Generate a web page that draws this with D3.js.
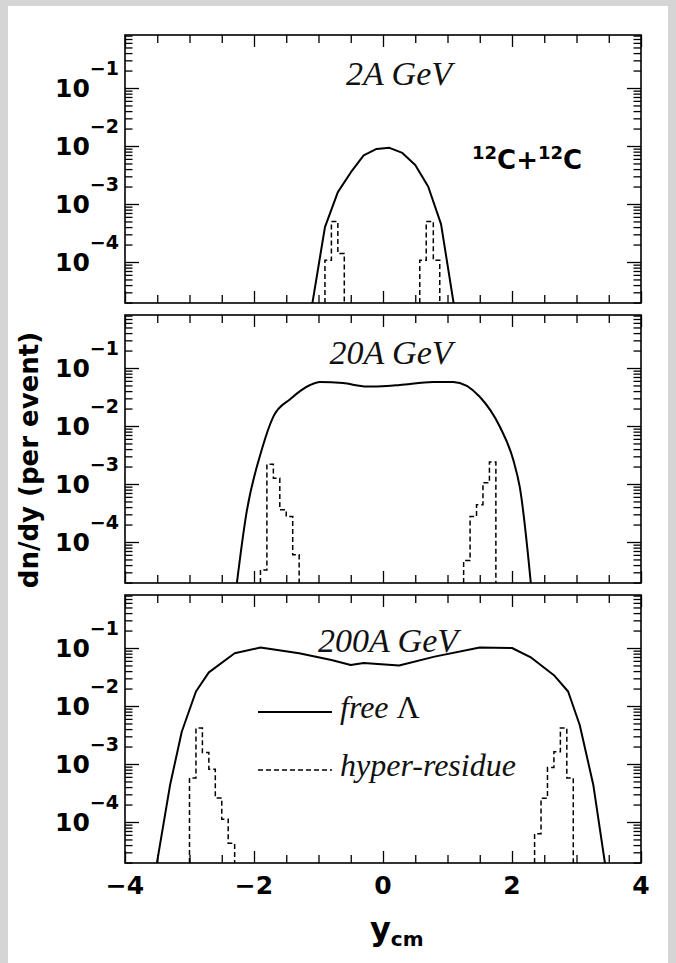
<!DOCTYPE html>
<html><head><meta charset="utf-8">
<script src="https://cdn.jsdelivr.net/npm/d3@7/dist/d3.min.js"></script>
<style>html,body{margin:0;padding:0;background:#d5d5d5;} svg{display:block;}</style>
</head><body><svg id="c" width="676" height="963"></svg>
<script>
// ---------------- data ----------------
const panelTitles = ["2A GeV", "20A GeV", "200A GeV"];
const yTickExponents = [-1, -2, -3, -4];
const xTickLabels = [-4, -2, 0, 2, 4];
const xMinorTicks = [-3.5,-3,-2.5,-1.5,-1,-0.5,0.5,1,1.5,2.5,3,3.5];
const legendLabels = [["free ", "\u039B"], ["hyper-residue", ""]];
const systemLabel = ["12", "C+", "12", "C"];

// free Lambda, 2A GeV
const free2X = [-1.1, -0.9, -0.7, -0.5, -0.3, -0.1, 0.1, 0.3, 0.5, 0.7, 0.9, 1.1];
const free2V = [1.8e-5, 4.0e-4, 1.6e-3, 3.5e-3, 6.9e-3, 8.9e-3, 9.3e-3, 7.6e-3, 4.7e-3, 2.0e-3, 4.5e-4, 1.8e-5];
// hyper-residue, 2A GeV (bin edges, contents)
const res2LeftEdges = [-0.9, -0.8, -0.7, -0.6];
const res2LeftV = [1.07e-4, 5.0e-4, 1.4e-4];
const res2RightEdges = [0.57, 0.67, 0.78, 0.88];
const res2RightV = [1.07e-4, 5.0e-4, 1.07e-4];

// free Lambda, 20A GeV
const free20X = [-2.35, -2.11, -1.88, -1.70, -1.44, -1.13, -0.98, -0.62, -0.25, 0.06, 0.26, 0.78, 1.09, 1.50, 1.81, 2.02, 2.12, 2.35];
const free20V = [3.2e-6, 3.5e-4, 3.9e-3, 1.45e-2, 2.9e-2, 5.1e-2, 5.75e-2, 5.5e-2, 4.8e-2, 4.9e-2, 5.1e-2, 5.75e-2, 5.75e-2, 3.2e-2, 9.8e-3, 2.6e-3, 8.9e-4, 4.0e-6];
const res20LeftEdges = [-1.9, -1.8, -1.7, -1.6, -1.5, -1.4, -1.3];
const res20LeftV = [3.3e-5, 2.2e-3, 1.26e-3, 3.6e-4, 2.75e-4, 6.0e-5];
const res20RightEdges = [1.25, 1.35, 1.45, 1.55, 1.65, 1.75];
const res20RightV = [4.8e-5, 2.75e-4, 4.4e-4, 1.05e-3, 2.4e-3];

// free Lambda, 200A GeV
const free200X = [-3.55, -3.30, -3.12, -2.9, -2.7, -2.3, -1.9, -1.3, -0.8, -0.5, -0.3, 0.25, 0.8, 1.5, 2.0, 2.3, 2.65, 2.87, 3.05, 3.26, 3.48];
const free200V = [1.0e-5, 4.4e-4, 3.6e-3, 1.78e-2, 3.8e-2, 8.1e-2, 1.02e-1, 8.1e-2, 6.2e-2, 5.1e-2, 5.5e-2, 5.0e-2, 7.1e-2, 1.02e-1, 1.0e-1, 6.8e-2, 3.4e-2, 1.78e-2, 4.7e-3, 4.4e-4, 1.0e-5];
const res200LeftEdges = [-3.0, -2.9, -2.8, -2.7, -2.6, -2.5, -2.4, -2.3];
const res200LeftV = [5.75e-4, 4.17e-3, 1.58e-3, 8.1e-4, 2.6e-4, 1.12e-4, 4.3e-5];
const res200RightEdges = [2.35, 2.45, 2.55, 2.65, 2.75, 2.85, 2.95];
const res200RightV = [6.3e-5, 2.57e-4, 8.7e-4, 1.62e-3, 4.17e-3, 5.75e-4];

// ---------------- layout ----------------
const W = 676, H = 963;
const plotLeft = 125, plotRight = 641;
const panelTop0 = 35, panelH = 268, panelStep = 280;
const yMin = Math.pow(10, -4.707), yMax = Math.pow(10, -0.086);
const titleX = [399, 391, 388], titleBase = [50, 49, 57];
const SANS = "'DejaVu Sans', sans-serif";
const SERIF = "'Liberation Serif', 'Times New Roman', serif";

const panels = [
  {title: panelTitles[0], fx: free2X, fv: free2V, curve: d3.curveLinear,
   hist: [[res2LeftEdges, res2LeftV], [res2RightEdges, res2RightV]]},
  {title: panelTitles[1], fx: free20X, fv: free20V, curve: d3.curveMonotoneX,
   hist: [[res20LeftEdges, res20LeftV], [res20RightEdges, res20RightV]]},
  {title: panelTitles[2], fx: free200X, fv: free200V, curve: d3.curveLinear,
   hist: [[res200LeftEdges, res200LeftV], [res200RightEdges, res200RightV]]}
];

const svg = d3.select("#c");
svg.append("rect").attr("width", W).attr("height", H).attr("fill", "#d5d5d5");
svg.append("rect").attr("x", 8).attr("y", 6).attr("width", 660).attr("height", H - 6).attr("fill", "#ffffff");

const x = d3.scaleLinear().domain([-4, 4]).range([plotLeft, plotRight]);
const defs = svg.append("defs");

panels.forEach((p, i) => {
  const top = panelTop0 + i * panelStep, bottom = top + panelH;
  const y = d3.scaleLog().domain([yMin, yMax]).range([bottom, top]);
  const g = svg.append("g");
  const cid = "clip" + i;
  defs.append("clipPath").attr("id", cid).append("rect")
    .attr("x", plotLeft).attr("y", top).attr("width", plotRight - plotLeft).attr("height", panelH);

  // free Lambda curve
  g.append("path").datum(d3.zip(p.fx, p.fv))
    .attr("clip-path", `url(#${cid})`)
    .attr("d", d3.line().x(d => x(d[0])).y(d => y(d[1])).curve(p.curve))
    .attr("fill", "none").attr("stroke", "#000").attr("stroke-width", 2).attr("stroke-linejoin", "round");

  // hyper-residue histograms
  p.hist.forEach(([edges, vals]) => {
    const pts = [[edges[0], yMin]];
    vals.forEach((v, k) => { pts.push([edges[k], v]); pts.push([edges[k + 1], v]); });
    pts.push([edges[edges.length - 1], yMin]);
    g.append("path").datum(pts)
      .attr("clip-path", `url(#${cid})`)
      .attr("d", d3.line().x(d => x(d[0])).y(d => y(d[1])))
      .attr("fill", "none").attr("stroke", "#000").attr("stroke-width", 1.5)
      .attr("stroke-dasharray", "5,3");
  });

  // ticks via d3 axes (inward)
  const decades = yTickExponents.map(e => Math.pow(10, e));
  const minors = [];
  for (let e = -5; e <= 0; e++) for (let k = 2; k <= 9; k++) {
    const v = k * Math.pow(10, e);
    if (v > yMin && v < yMax) minors.push(v);
  }
  const styleAxis = sel => { sel.select(".domain").remove(); sel.selectAll("line").attr("stroke", "#000").attr("stroke-width", 1.3); };
  g.append("g").attr("transform", `translate(${plotLeft},0)`).call(d3.axisLeft(y).tickValues(decades).tickSize(-14).tickFormat("")).call(styleAxis);
  g.append("g").attr("transform", `translate(${plotLeft},0)`).call(d3.axisLeft(y).tickValues(minors).tickSize(-7.5).tickFormat("")).call(styleAxis);
  g.append("g").attr("transform", `translate(${plotRight},0)`).call(d3.axisRight(y).tickValues(decades).tickSize(-14).tickFormat("")).call(styleAxis);
  g.append("g").attr("transform", `translate(${plotRight},0)`).call(d3.axisRight(y).tickValues(minors).tickSize(-7.5).tickFormat("")).call(styleAxis);
  g.append("g").attr("transform", `translate(0,${bottom})`).call(d3.axisBottom(x).tickValues(xTickLabels).tickSize(-12).tickFormat("")).call(styleAxis);
  g.append("g").attr("transform", `translate(0,${bottom})`).call(d3.axisBottom(x).tickValues(xMinorTicks).tickSize(-8).tickFormat("")).call(styleAxis);
  g.append("g").attr("transform", `translate(0,${top})`).call(d3.axisTop(x).tickValues(xTickLabels).tickSize(-12).tickFormat("")).call(styleAxis);
  g.append("g").attr("transform", `translate(0,${top})`).call(d3.axisTop(x).tickValues(xMinorTicks).tickSize(-8).tickFormat("")).call(styleAxis);

  // frame
  g.append("rect").attr("x", plotLeft).attr("y", top).attr("width", plotRight - plotLeft).attr("height", panelH)
    .attr("fill", "none").attr("stroke", "#000").attr("stroke-width", 1.6);

  // y tick labels 10^n
  yTickExponents.forEach(e => {
    const yy = y(Math.pow(10, e));
    const t = g.append("text").attr("x", 119).attr("y", yy + 9).attr("text-anchor", "end")
      .attr("font-family", SANS).attr("font-weight", "bold").attr("font-size", 25).attr("fill", "#000");
    t.append("tspan").text("10");
    t.append("tspan").attr("dy", -22).attr("font-size", 19).text("\u2212" + Math.abs(e));
  });

  // title
  g.append("text").attr("x", titleX[i]).attr("y", top + titleBase[i]).attr("text-anchor", "middle")
    .attr("font-family", SERIF).attr("font-style", "italic").attr("font-size", 34).attr("fill", "#111")
    .text(p.title);

  if (i === 0) {
    const t = g.append("text").attr("x", 472).attr("y", top + 134)
      .attr("font-family", SANS).attr("font-weight", "bold").attr("font-size", 26).attr("fill", "#000");
    t.append("tspan").attr("font-size", 18).attr("dy", -10).text(systemLabel[0]);
    t.append("tspan").attr("dy", 10).text(systemLabel[1]);
    t.append("tspan").attr("font-size", 18).attr("dy", -10).text(systemLabel[2]);
    t.append("tspan").attr("dy", 10).text(systemLabel[3]);
  }

  if (i === 2) {
    // legend
    const ly = [712, 770];
    legendLabels.forEach((lab, k) => {
      g.append("line").attr("x1", 258).attr("x2", 332).attr("y1", ly[k]).attr("y2", ly[k])
        .attr("stroke", "#000").attr("stroke-width", k === 0 ? 2 : 1.5)
        .attr("stroke-dasharray", k === 0 ? null : "5,3");
      const t = g.append("text").attr("x", 340).attr("y", ly[k] + 6)
        .attr("font-family", SERIF).attr("font-style", "italic").attr("font-size", 32).attr("fill", "#111");
      t.append("tspan").text(lab[0]);
      if (lab[1]) t.append("tspan").attr("font-style", "normal").text(lab[1]);
    });
    // x tick labels
    xTickLabels.forEach(v => {
      g.append("text").attr("x", x(v)).attr("y", bottom + 31).attr("text-anchor", "middle")
        .attr("font-family", SANS).attr("font-weight", "bold").attr("font-size", 25).attr("fill", "#000")
        .text(v < 0 ? "\u2212" + Math.abs(v) : String(v));
    });
    // x axis title
    const xt = g.append("text").attr("x", 370).attr("y", bottom + 77)
      .attr("font-family", SANS).attr("font-weight", "bold").attr("font-size", 32).attr("fill", "#000");
    xt.append("tspan").text("y");
    xt.append("tspan").attr("dy", 6).attr("font-size", 20).text("cm");
  }
});

// y axis title
svg.append("text").attr("transform", "translate(38,460) rotate(-90)").attr("text-anchor", "middle")
  .attr("font-family", SANS).attr("font-weight", "bold").attr("font-size", 26).attr("fill", "#000")
  .text("dn/dy (per event)");
</script>
</body></html>
